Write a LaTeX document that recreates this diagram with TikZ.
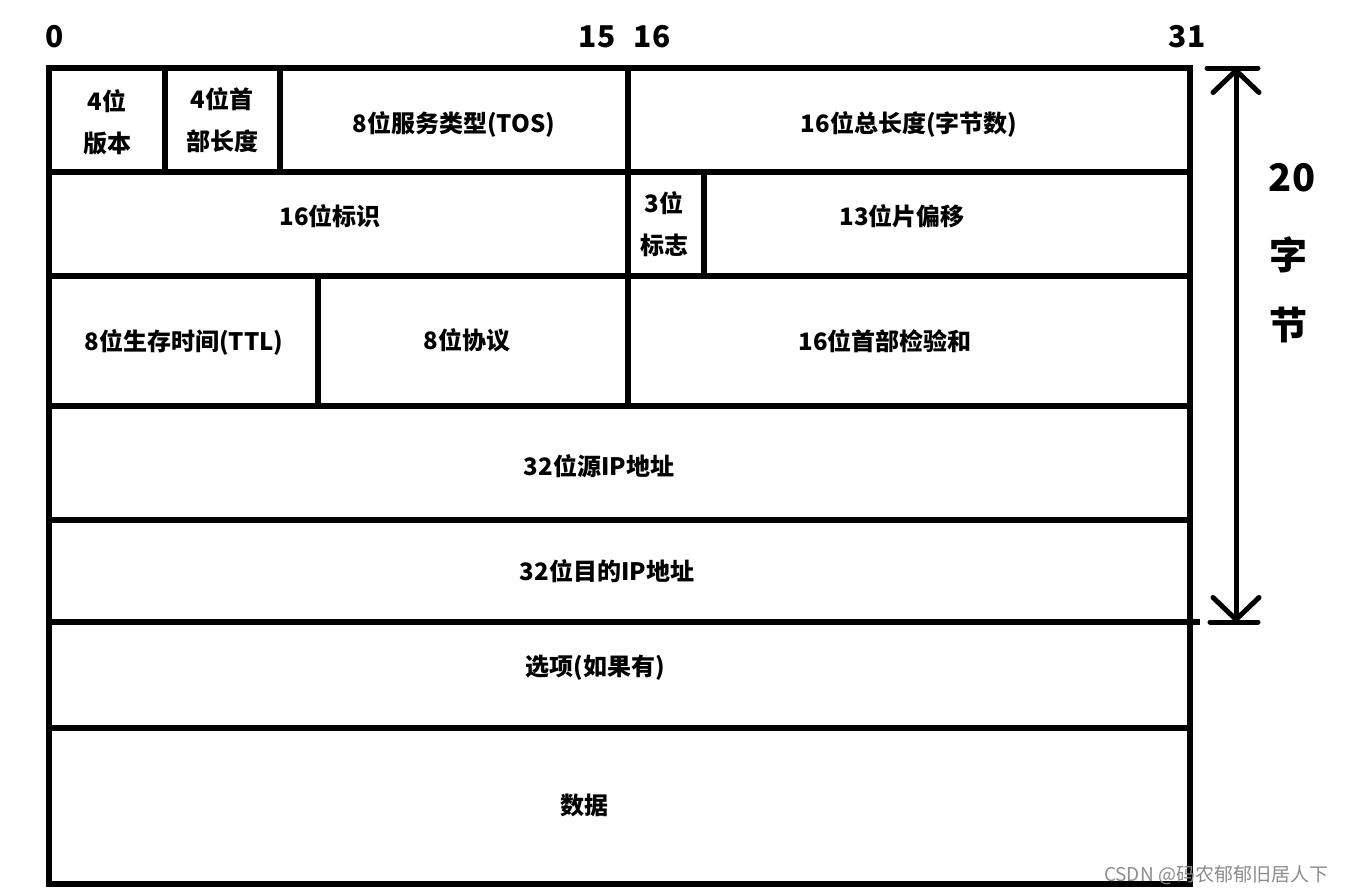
\documentclass[tikz,border=0pt]{standalone}
\usepackage{fontspec}
\setmainfont{Noto Sans CJK SC}
\usetikzlibrary{arrows.meta,positioning}
\tikzset{
  every node/.style={
    font=\bfseries\fontsize{24}{42}\selectfont
  },
  field/.style={
    align=center,
    inner sep=0pt
  },
  bitpos/.style={
    font=\bfseries\fontsize{30}{32}\selectfont,
    inner sep=0pt
  },
  sizelabel/.style={
    font=\bfseries\fontsize{38}{38}\selectfont,
    inner sep=0pt
  },
  rule/.style={
    line width=5.5pt,
    line cap=rect
  },
  span/.style={
    line width=5pt,
    line cap=round,
    {Straight Barb[length=22pt,width=46pt,round]}-{Straight Barb[length=22pt,width=46pt,round]}
  },
  watermark/.style={
    font=\fontsize{19}{22}\selectfont,
    text=gray!90,
    inner sep=0pt
  }
}

\begin{document}
\begin{tikzpicture}[x=1pt,y=-1pt]
  \useasboundingbox (0,0) rectangle (1346,895);

  % frame and rows
  \draw[rule] (49,68) rectangle (1190,884);
  \foreach \y in {172,276,406,520,728}
    \draw[rule] (49,\y) -- (1190,\y);
  \draw[rule] (49,622) -- (1197,622);

  % columns
  \draw[rule] (165,68) -- (165,172);
  \draw[rule] (280,68) -- (280,172);
  \draw[rule] (628,68) -- (628,406);
  \draw[rule] (704,172) -- (704,276);
  \draw[rule] (318,276) -- (318,406);

  % bit positions
  \node[bitpos] (b0)  at (55,37)   {0};
  \node[bitpos] (b15) at (597,37)  {15};
  \node[bitpos] (b16) at (652,37)  {16};
  \node[bitpos] (b31) at (1187,37) {31};

  % fields
  \node[field] (ver)   at (107,122) {4位\\版本};
  \node[field] (ihl)   at (222,120) {4位首\\部长度};
  \node[field] (tos)   at (454,124) {8位服务类型(TOS)};
  \node[field] (len)   at (909,124) {16位总长度(字节数)};
  \node[field] (ident) at (330,216) {16位标识};
  \node[field] (flags) at (664,224) {3位\\标志};
  \node[field] (frag)  at (902,216) {13位片偏移};
  \node[field] (ttl)   at (184,342) {8位生存时间(TTL)};
  \node[field] (proto) at (467,340) {8位协议};
  \node[field] (csum)  at (885,341) {16位首部检验和};
  \node[field] (src)   at (599,466) {32位源IP地址};
  \node[field] (dst)   at (607,571) {32位目的IP地址};
  \node[field] (opt)   at (595,668) {选项(如果有)};
  \node[field] (data)  at (584,805) {数据};

  % header size
  \coordinate (htop) at (1236,68);
  \coordinate (hbot) at (1236,622);
  \draw[span] (htop) -- (hbot);
  \draw[line width=5pt,line cap=round] (1207,68) -- (1258,68);
  \draw[line width=5pt,line cap=round] (1210,622) -- (1258,622);
  \node[sizelabel] (n20) at (1292,178) {20};
  \node[sizelabel] (zi)  at (1288,255) {字};
  \node[sizelabel] (jie) at (1288,325) {节};

  \node[watermark] (wm) at (1216,875) {CSDN @码农郁郁旧居人下};
\end{tikzpicture}
\end{document}
